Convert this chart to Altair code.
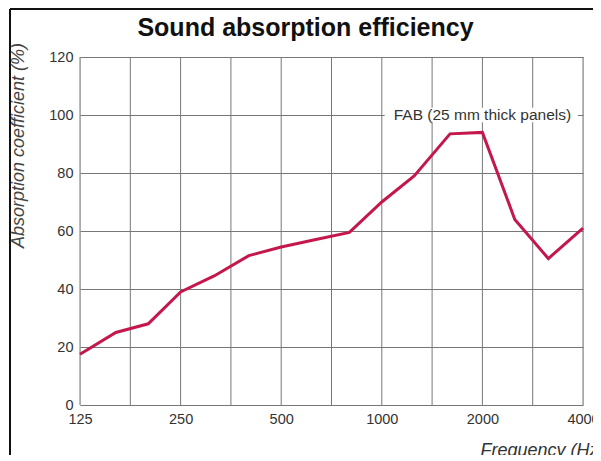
import altair as alt
import pandas as pd

freqs = [125, 160, 200, 250, 315, 400, 500, 630, 800, 1000, 1250, 1600, 2000, 2500, 3150, 4000]
absorption = [17.5, 25, 28, 39, 44.5, 51.5, 54.5, 57, 59.5, 70, 79, 93.5, 94, 64, 50.5, 61]

grid_freqs = [125, 176.8, 250, 353.6, 500, 707.1, 1000, 1414.2, 2000, 2828.4, 4000]
octave_labels = [125, 250, 500, 1000, 2000, 4000]
y_ticks = [0, 10, 20, 30, 40, 50, 60, 70, 80, 90, 100, 110, 120]

annotation_text = "FAB (25 mm thick panels)"
annotation_freq = 2000
annotation_value = 100

df = pd.DataFrame({"freq": freqs, "abs": absorption})
grid_df = pd.DataFrame({"freq": grid_freqs})
ann_df = pd.DataFrame({"freq": [annotation_freq], "abs": [annotation_value], "label": [annotation_text],
                       "x0": [1020], "x1": [3860], "y0": [97.5], "y1": [102.5]})

FONT = "Liberation Sans"

xscale = alt.Scale(type="log", base=2, domain=[125, 4000], nice=False)
yscale = alt.Scale(domain=[0, 120], nice=False)

label_expr = "indexof([125,250,500,1000,2000,4000], datum.value) >= 0 ? format(datum.value, 'd') : ''"

xaxis = alt.Axis(values=grid_freqs, labelExpr=label_expr, grid=False, ticks=False, domain=False,
                 labelFont=FONT, labelFontSize=14.5, labelColor="#333", labelPadding=7,
                 labelFlush=False, labelOverlap=False,
                 title="Frequency (Hz)", titleFont=FONT, titleFontSize=18, titleFontStyle="italic",
                 titleFontWeight="normal", titleColor="#333", titleAnchor="end", titleAlign="right",
                 titleX=524, titleY=45, titleBaseline="middle")
yaxis = alt.Axis(values=y_ticks, labelExpr="datum.value % 20 == 0 ? datum.label : ''",
                 grid=True, gridColor="#777", gridWidth=1, gridOpacity=1,
                 ticks=False, domain=False, labelFont=FONT, labelFontSize=14.5, labelColor="#333",
                 labelPadding=7,
                 title="Absorption coefficient (%)", titleFont=FONT, titleFontSize=18,
                 titleFontStyle="italic", titleFontWeight="normal", titleColor="#444",
                 titleX=-62, titleY=88, titleAlign="center", titleBaseline="middle", titleAngle=-90)

vgrid = alt.Chart(grid_df).mark_rule(color="#777", strokeWidth=1).encode(
    x=alt.X("freq:Q", scale=xscale, axis=xaxis)
)

yaxis_layer = alt.Chart(df).mark_point(opacity=0).encode(
    x=alt.X("freq:Q", scale=xscale, axis=xaxis),
    y=alt.Y("abs:Q", scale=yscale, axis=yaxis),
)

bg = alt.Chart(ann_df).mark_rect(color="white").encode(
    x=alt.X("x0:Q", scale=xscale), x2="x1:Q",
    y=alt.Y("y0:Q", scale=yscale), y2="y1:Q",
)

line = alt.Chart(df).mark_line(color="#C4184C", strokeWidth=3, strokeJoin="miter").encode(
    x=alt.X("freq:Q", scale=xscale),
    y=alt.Y("abs:Q", scale=yscale),
)

ann = alt.Chart(ann_df).mark_text(font=FONT, fontSize=15.5, color="#333", align="center", baseline="middle").encode(
    x=alt.X("freq:Q", scale=xscale),
    y=alt.Y("abs:Q", scale=yscale),
    text="label:N",
)

border_left = alt.Chart(ann_df).mark_rule(color="#111", strokeWidth=2).encode(
    x=alt.value(-70), y=alt.value(-48), y2=alt.value(398)
)
border_top = alt.Chart(ann_df).mark_rule(color="#111", strokeWidth=2).encode(
    x=alt.value(-70), x2=alt.value(520), y=alt.value(-48)
)

chart = alt.layer(yaxis_layer, vgrid, bg, line, ann, border_left, border_top).properties(
    width=503, height=348,
    title=alt.TitleParams("Sound absorption efficiency", font=FONT, fontSize=25, fontWeight="bold",
                          color="#111", anchor="middle", dx=-26, offset=0, dy=33),
    autosize=alt.AutoSizeParams(type="none"),
    padding={"left": 72, "top": 49, "right": 10, "bottom": 50},
).configure_view(stroke="#555", strokeWidth=1.5).configure(background="white")

chart.save("out.html", embed_options={"renderer": "svg", "actions": False})
